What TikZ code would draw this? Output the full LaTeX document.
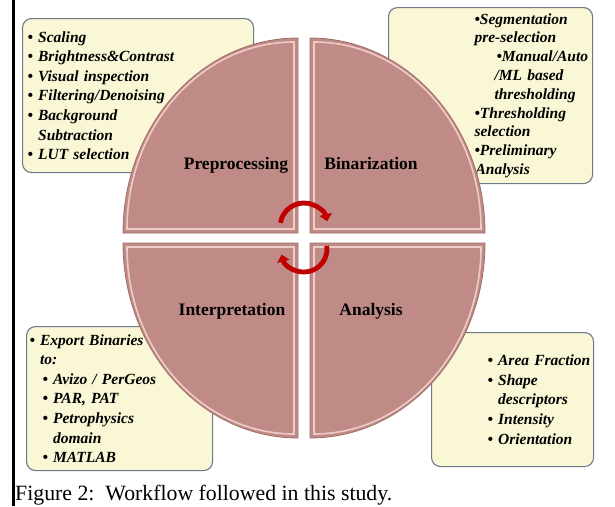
\documentclass[tikz,border=0pt]{standalone}
\usepackage{fontspec}
\setmainfont{Liberation Serif}
\usepackage{tikz}
\usetikzlibrary{arrows.meta}

\definecolor{petal}{RGB}{192,139,134}
\definecolor{petalrim}{RGB}{238,204,200}
\definecolor{petaledge}{RGB}{158,108,104}
\definecolor{notefill}{RGB}{250,247,214}
\definecolor{noteline}{RGB}{110,122,138}
\definecolor{turnred}{RGB}{192,0,0}

\hyphenpenalty=10000
\exhyphenpenalty=10000

\tikzset{
	petal/.style={fill=petal, draw=petaledge, line width=0.8pt},
	petalrim/.style={draw=petalrim, line width=1.6pt},
	stage/.style={font=\fontsize{17.5}{20}\selectfont\bfseries, inner sep=0pt},
	note/.style={draw=noteline, fill=notefill, line width=1.1pt, rounded corners=9pt,
		anchor=north west, align=left, inner ysep=0pt,
		font=\fontsize{15.5}{19.6}\selectfont\bfseries\itshape},
	turn/.style={draw=turnred, line width=4.8pt, -{Triangle[length=7pt,width=12.5pt]}}
}

\begin{document}
\begin{tikzpicture}[x=1pt, y=1pt]
	\useasboundingbox (0,0) rectangle (615,-506);

	\draw[line width=2.5pt] (13.5,0) -- (13.5,-506);

	% notes
	\node[note, text width=221, inner xsep=5, minimum height=154] (prepnote) at (22,-18)
		{• Scaling\\
		 • Brightness\&Contrast\\
		 • Visual inspection\\
		 • Filtering/Denoising\\
		 • Background\\
		 \phantom{• }Subtraction\\
		 • LUT selection};
	\node[note, text width=194, inner xsep=5, minimum height=176,
		font=\fontsize{15.5}{18.8}\selectfont\bfseries\itshape] (binnote) at (388,-7)
		{\hspace*{81pt}•Segmentation\\
		 \hspace*{81pt}pre-selection\\
		 \hspace*{103pt}•Manual/Auto\\
		 \hspace*{101pt}/ML~based\\
		 \hspace*{101pt}thresholding\\
		 \hspace*{81pt}•Thresholding\\
		 \hspace*{81pt}selection\\
		 \hspace*{81pt}•Preliminary\\
		 \hspace*{82pt}Analysis};
	\node[note, text width=180, inner xsep=3, minimum height=144] (interpnote) at (26,-326)
		{• Export Binaries\\
		 \phantom{• }to:\\
		 \hspace*{13pt}• Avizo / PerGeos\\
		 \hspace*{13pt}• PAR, PAT\\
		 \hspace*{13pt}• Petrophysics\\
		 \hspace*{13pt}\phantom{• }domain\\
		 \hspace*{13pt}• MATLAB};
	\node[note, text width=154, inner xsep=4, minimum height=134] (analnote) at (431,-332)
		{\hspace*{52pt}•~Area~Fraction\\
		 \hspace*{52pt}• Shape\\
		 \hspace*{52pt}\phantom{• }descriptors\\
		 \hspace*{52pt}• Intensity\\
		 \hspace*{52pt}• Orientation};

	% four quarters
	\path[petal] (298,-233) -- (123,-233) arc[start angle=180, end angle=90, x radius=175, y radius=195] -- cycle;
	\path[petal] (310,-233) -- (485,-233) arc[start angle=0, end angle=90, x radius=175, y radius=195] -- cycle;
	\path[petal] (298,-243) -- (123,-243) arc[start angle=180, end angle=270, x radius=175, y radius=195] -- cycle;
	\path[petal] (310,-243) -- (485,-243) arc[start angle=0, end angle=-90, x radius=175, y radius=195] -- cycle;
	\path[petalrim] (294,-229) -- (127,-229) arc[start angle=180, end angle=90, x radius=167, y radius=187] -- cycle;
	\path[petalrim] (314,-229) -- (481,-229) arc[start angle=0, end angle=90, x radius=167, y radius=187] -- cycle;
	\path[petalrim] (294,-247) -- (127,-247) arc[start angle=180, end angle=270, x radius=167, y radius=187] -- cycle;
	\path[petalrim] (314,-247) -- (481,-247) arc[start angle=0, end angle=-90, x radius=167, y radius=187] -- cycle;

	\node[stage] (prep) at (236,-165) {Preprocessing};
	\node[stage] (bin) at (371,-164) {Binarization};
	\node[stage] (interp) at (232,-311) {Interpretation};
	\node[stage] (anal) at (371,-311) {Analysis};

	% cycle arrows
	\coordinate (hub) at (304,-238);
	\draw[turn] ([shift={(170:24)}]hub) ++(0,11) arc[start angle=170, end angle=14, radius=24];
	\draw[turn] ([shift={(8:23)}]hub) ++(0,-11) arc[start angle=8, end angle=-166, radius=23];

	\node[anchor=base west, inner sep=0pt, font=\fontsize{21.8}{24}\selectfont] (caption) at (15,-500)
		{Figure 2:\ \ Workflow followed in this study.};

\end{tikzpicture}
\end{document}
